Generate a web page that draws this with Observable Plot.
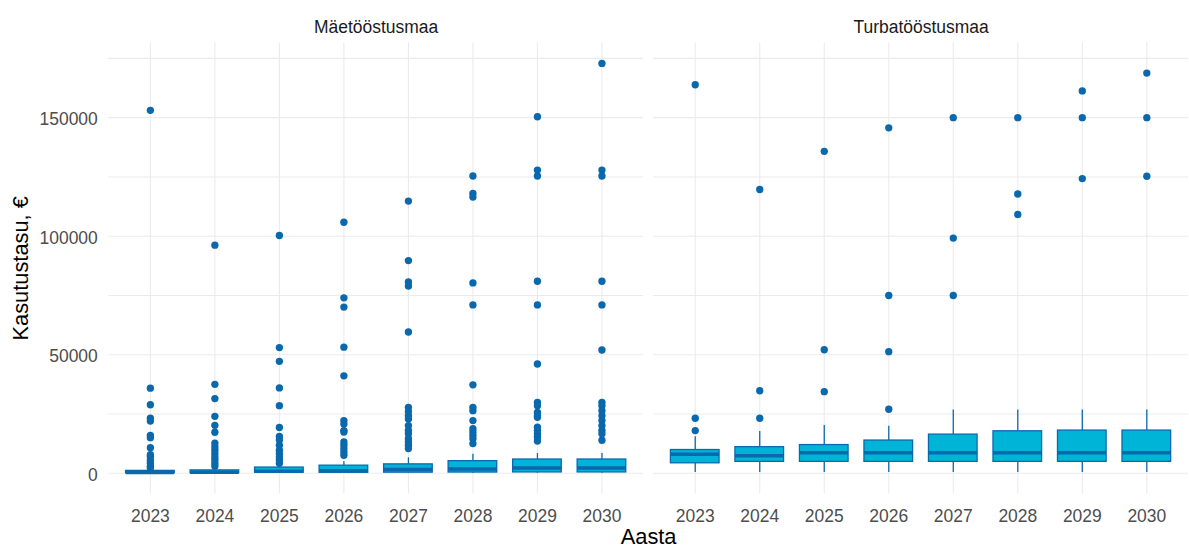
<!DOCTYPE html>
<html>
<head>
<meta charset="utf-8">
<script src="https://cdn.jsdelivr.net/npm/d3@7"></script>
<script src="https://cdn.jsdelivr.net/npm/@observablehq/plot@0.6"></script>
<style>
  html, body { margin: 0; padding: 0; background: #ffffff; overflow: hidden; }
  #chart { position: relative; width: 1189px; height: 550px; overflow: hidden; }
  #chart svg { display: block; }
</style>
</head>
<body>
<div id="chart"></div>
<script>
// ---- Data ----
const facets = ["Mäetööstusmaa", "Turbatööstusmaa"];
const years = ["2023", "2024", "2025", "2026", "2027", "2028", "2029", "2030"];

// Mäetööstusmaa
const maeLo  = [0, 0, 0, 0, 0, 0, 0, 0];
const maeQ1  = [100, 100, 200, 200, 250, 300, 350, 350];
const maeMed = [350, 400, 900, 1100, 1600, 1800, 2200, 2200];
const maeQ3  = [1000, 1200, 2400, 3200, 3750, 5100, 5800, 5800];
const maeHi  = [2000, 2500, 3000, 4900, 6500, 8000, 8300, 8300];
const maeOut = [
  [153100, 35900, 28900, 23200, 22000, 16000, 15000, 10800, 7800, 7000, 5400, 4200, 3000, 2200],
  [96200, 37500, 31500, 24000, 20200, 17300, 12700, 11100, 9700, 8300, 6900, 5600, 4200, 3000],
  [100300, 53000, 47200, 36000, 28500, 19300, 15500, 14000, 11800, 9700, 8300, 6900, 5600, 4200],
  [105900, 74000, 70100, 53200, 41100, 22200, 20800, 18000, 17400, 13200, 11800, 10400, 9000, 7600],
  [114800, 89700, 80700, 79000, 59600, 27800, 26100, 24300, 22900, 20100, 18100, 16700, 14600, 13200, 11800, 10400],
  [125400, 118000, 116500, 80300, 71000, 37300, 27800, 26400, 22200, 18800, 17400, 16000, 14600, 12500],
  [150400, 127900, 125400, 81000, 71000, 46100, 29900, 28500, 25700, 24300, 23600, 19400, 18100, 16700, 15300, 13600],
  [172900, 127900, 125400, 81000, 71000, 52000, 29900, 28500, 26400, 24300, 22200, 20100, 18100, 16700, 13900]
];

// Turbatööstusmaa
const turLo  = [300, 300, 300, 300, 300, 300, 300, 300];
const turQ1  = [4200, 4800, 4800, 4800, 4800, 4800, 4800, 4800];
const turMed = [8000, 7400, 8600, 8600, 8600, 8600, 8600, 8600];
const turQ3  = [9800, 11000, 11900, 13800, 16300, 17700, 18000, 18000];
const turHi  = [15400, 17600, 20100, 19800, 26700, 26700, 26700, 26700];
const turOut = [
  [163900, 23200, 18000],
  [119700, 34800, 23200],
  [135800, 52100, 34400],
  [145700, 75000, 51300, 27000],
  [150000, 99200, 75000],
  [150000, 117800, 109200],
  [161300, 150000, 124300],
  [168800, 150000, 125300]
];

// Axis ticks and gridlines
const yTicks = [0, 50000, 100000, 150000];
const yGrid = [0, 25000, 50000, 75000, 100000, 125000, 150000, 175000];
const yDomain = [-8650, 181550];

// ---- Build tables ----
const series = [
  {facet: facets[0], lo: maeLo, q1: maeQ1, med: maeMed, q3: maeQ3, hi: maeHi, out: maeOut},
  {facet: facets[1], lo: turLo, q1: turQ1, med: turMed, q3: turQ3, hi: turHi, out: turOut}
];
const boxes = series.flatMap(s => years.map((year, i) => ({
  facet: s.facet, year, lo: s.lo[i], q1: s.q1[i], med: s.med[i], q3: s.q3[i], hi: s.hi[i]
})));
const points = series.flatMap(s => years.flatMap((year, i) =>
  s.out[i].map(value => ({facet: s.facet, year, value}))));

const fillColor = "#00b4d8";
const darkColor = "#0a68ad";
const font = "'Liberation Sans', Arial, Helvetica, sans-serif";

const chart = Plot.plot({
  width: 1198,
  height: 560,
  marginLeft: 108.5,
  marginRight: 0.5,
  marginTop: 42.7,
  marginBottom: 63,
  style: {fontFamily: font, background: "#ffffff"},
  fx: {domain: facets, paddingInner: 0.0175, paddingOuter: 0, label: null},
  x: {domain: years, paddingInner: 0.25, paddingOuter: 0.225, label: null},
  y: {domain: yDomain, label: null},
  marks: [
    Plot.gridY(yGrid, {stroke: "#ebebeb", strokeOpacity: 1, strokeWidth: 1.1}),
    Plot.gridX({stroke: "#ebebeb", strokeOpacity: 1, strokeWidth: 1.1}),
    Plot.axisY(yTicks, {
      tickSize: 0, tickPadding: 11, fontSize: 17.6, fill: "#4d4d4d", dy: 2,
      tickFormat: d3.format("d"), label: null
    }),
    Plot.axisX({tickSize: 0, tickPadding: 16, fontSize: 17.6, fill: "#4d4d4d", label: null}),
    Plot.axisFx({anchor: "top", tickSize: 0, tickPadding: 10, fontSize: 17.6, fill: "#1a1a1a", label: null}),
    Plot.axisFx({
      anchor: "bottom", tickSize: 0, tickFormat: () => "", fontSize: 22, fill: "#000000",
      label: "Aasta", labelAnchor: "center", labelArrow: "none", labelOffset: 51
    }),
    Plot.text(["Kasutustasu, €"], {
      fx: () => facets[0], frameAnchor: "left", dx: -96.5, rotate: -90,
      textAnchor: "middle", lineAnchor: "top", fontSize: 22, fill: "#000000"
    }),
    Plot.ruleX(boxes, {fx: "facet", x: "year", y1: "q3", y2: "hi", stroke: darkColor, strokeWidth: 1.3}),
    Plot.ruleX(boxes, {fx: "facet", x: "year", y1: "lo", y2: "q1", stroke: darkColor, strokeWidth: 1.3}),
    Plot.barY(boxes, {fx: "facet", x: "year", y1: "q1", y2: "q3", fill: fillColor, stroke: darkColor, strokeWidth: 1.3}),
    Plot.tickY(boxes, {fx: "facet", x: "year", y: "med", stroke: darkColor, strokeWidth: 3.5}),
    Plot.dot(points, {fx: "facet", x: "year", y: "value", r: 3.7, fill: darkColor, stroke: "none"})
  ]
});

document.getElementById("chart").appendChild(chart);
</script>
</body>
</html>
